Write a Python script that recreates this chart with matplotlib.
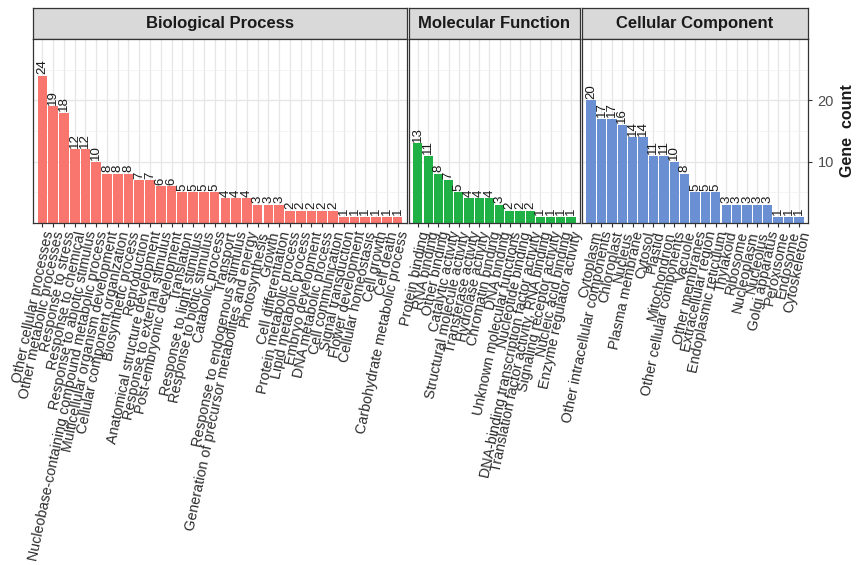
import matplotlib
matplotlib.use('Agg')
import matplotlib.pyplot as plt
from matplotlib.gridspec import GridSpec

plt.rcParams['font.family'] = ['Liberation Sans', 'DejaVu Sans']

# --- data ---
bp_terms = [
    'Other cellular processes', 'Other metabolic processes', 'Response to stress',
    'Response to chemical', 'Response to abiotic stimulus',
    'Nucleobase-containing compound metabolic process',
    'Multicellular organism development', 'Cellular component organization',
    'Biosynthetic process', 'Reproduction', 'Anatomical structure development',
    'Response to external stimulus', 'Post-embryonic development', 'Translation',
    'Response to light stimulus', 'Response to biotic stimulus', 'Catabolic process',
    'Transport', 'Response to endogenous stimulus',
    'Generation of precursor metabolites and energy', 'Photosynthesis', 'Growth',
    'Cell differentiation', 'Protein metabolic process', 'Lipid metabolic process',
    'Embryo development', 'DNA metabolic process', 'Cell communication',
    'Signal transduction', 'Flower development', 'Cellular homeostasis',
    'Cell growth', 'Cell death', 'Carbohydrate metabolic process',
]
bp_counts = [24, 19, 18, 12, 12, 10, 8, 8, 8, 7, 7, 6, 6, 5, 5, 5, 5, 4, 4, 4,
             3, 3, 3, 2, 2, 2, 2, 2, 1, 1, 1, 1, 1, 1]

mf_terms = [
    'Protein binding', 'RNA binding', 'Other binding', 'Catalytic activity',
    'Structural molecule activity', 'Transferase activity', 'Hydrolase activity',
    'Chromatin binding', 'DNA binding', 'Unknown molecular functions',
    'Nucleotide binding', 'DNA-binding transcription factor activity',
    'Translation factor activity, RNA binding', 'Signaling receptor activity',
    'Nucleic acid binding', 'Enzyme regulator activity',
]
mf_counts = [13, 11, 8, 7, 5, 4, 4, 4, 3, 2, 2, 2, 1, 1, 1, 1]

cc_terms = [
    'Cytoplasm', 'Other intracellular components', 'Chloroplast', 'Nucleus',
    'Plasma membrane', 'Cytosol', 'Plastid', 'Mitochondrion',
    'Other cellular components', 'Vacuole', 'Other membranes',
    'Extracellular region', 'Endoplasmic reticulum', 'Thylakoid', 'Ribosome',
    'Nucleoplasm', 'Nucleolus', 'Golgi apparatus', 'Peroxisome', 'Endosome',
    'Cytoskeleton',
]
cc_counts = [20, 17, 17, 16, 14, 14, 11, 11, 10, 8, 5, 5, 5, 3, 3, 3, 3, 3, 1, 1, 1]

panels = [
    ('Biological Process', bp_terms, bp_counts, '#F8766D'),
    ('Molecular Function', mf_terms, mf_counts, '#1FB046'),
    ('Cellular Component', cc_terms, cc_counts, '#6A8FD3'),
]

W, H = 858, 565
fig = plt.figure(figsize=(W / 100, H / 100), dpi=100)
pad = 0.37
# panel widths in pixels, as measured on the reference
gs = GridSpec(2, 3, figure=fig,
              left=33 / W, right=808 / W, top=1 - 8 / H, bottom=1 - 223 / H,
              height_ratios=[31, 184],
              width_ratios=[374, 171, 226],
              wspace=0.008, hspace=0)

border = '#333333'
for i, (title, terms, counts, color) in enumerate(panels):
    # strip
    sax = fig.add_subplot(gs[0, i])
    sax.set_facecolor('#D9D9D9')
    sax.set_xticks([])
    sax.set_yticks([])
    for s in sax.spines.values():
        s.set_color(border)
        s.set_linewidth(0.9)
    sax.text(0.5, 0.5, title, ha='center', va='center', fontsize=12,
             fontweight='bold', color='#1A1A1A', transform=sax.transAxes)

    ax = fig.add_subplot(gs[1, i])
    x = list(range(len(terms)))
    ax.bar(x, counts, width=0.9, color=color, zorder=2)
    for xi, c in zip(x, counts):
        ax.text(xi, c + 0.25, str(c), rotation=90, ha='center', va='bottom',
                fontsize=9.5, color='#1A1A1A', zorder=3)

    ax.set_xlim(-0.5 - pad, len(terms) - 0.5 + pad)
    ax.set_ylim(0, 30)
    ax.set_xticks(x)
    ax.set_xticklabels(terms, rotation=78, ha='right', va='top',
                       rotation_mode='anchor', fontsize=10.3, color='#2B2B2B')
    ax.tick_params(axis='x', length=3, width=0.8, color='#333333', pad=2)
    ax.set_yticks([10, 20])
    ax.set_yticks([5, 15, 25], minor=True)
    ax.grid(True, which='major', color='#E6E6E6', linewidth=0.9, zorder=0)
    ax.grid(True, which='minor', axis='y', color='#F0F0F0', linewidth=0.5, zorder=0)
    ax.set_axisbelow(True)
    for s in ax.spines.values():
        s.set_color(border)
        s.set_linewidth(0.9)

    if i == 2:
        ax.yaxis.tick_right()
        ax.yaxis.set_label_position('right')
        ax.tick_params(axis='y', which='major', length=3, width=0.8,
                       color='#333333', labelsize=10.5, labelcolor='#4D4D4D', pad=4)
        ax.tick_params(axis='y', which='minor', length=0)
        ax.set_ylabel('Gene  count', fontsize=11.5, fontweight='bold',
                      color='#1A1A1A', labelpad=4)
    else:
        ax.tick_params(axis='y', which='both', left=False, right=False,
                       labelleft=False)

fig.savefig('out.png', dpi=100)
